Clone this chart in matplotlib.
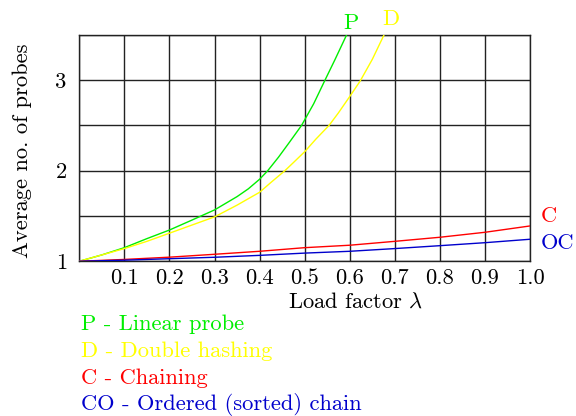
import matplotlib
matplotlib.use("Agg")
import matplotlib.pyplot as plt

plt.rcParams['font.family'] = 'serif'
plt.rcParams['font.serif'] = ['cmr10']
plt.rcParams['mathtext.fontset'] = 'cm'
plt.rcParams['axes.formatter.use_mathtext'] = True

# Значения
x_p = [0.0, 0.05, 0.1, 0.15, 0.2, 0.25, 0.3, 0.35, 0.375, 0.4, 0.418, 0.442, 0.467,
       0.493, 0.52, 0.545, 0.567, 0.593]
y_p = [1.0, 1.07, 1.15, 1.25, 1.345, 1.455, 1.567, 1.714, 1.80, 1.906, 2.0, 2.15, 2.32,
       2.5, 2.74, 3.0, 3.225, 3.5]

x_d = [0.0, 0.05, 0.1, 0.15, 0.2, 0.25, 0.3, 0.35, 0.4, 0.425, 0.456, 0.475, 0.5,
       0.525, 0.554, 0.575, 0.6, 0.623, 0.65, 0.676]
y_d = [1.0, 1.07, 1.14, 1.22, 1.31, 1.40, 1.49, 1.62, 1.762, 1.87, 2.0, 2.09, 2.21,
       2.35, 2.5, 2.64, 2.82, 2.99, 3.23, 3.5]

x_c = [0.0, 0.1, 0.2, 0.3, 0.4, 0.5, 0.6, 0.7, 0.8, 0.9, 1.0]
y_c = [1.0, 1.02, 1.045, 1.077, 1.11, 1.15, 1.177, 1.22, 1.265, 1.32, 1.39]
y_oc = [1.0, 1.012, 1.028, 1.044, 1.065, 1.09, 1.11, 1.14, 1.172, 1.205, 1.243]

x_ticks = [0.0, 0.1, 0.2, 0.3, 0.4, 0.5, 0.6, 0.7, 0.8, 0.9, 1.0]
x_labels = ['', '0.1', '0.2', '0.3', '0.4', '0.5', '0.6', '0.7', '0.8', '0.9', '1.0']
y_ticks = [1.0, 1.5, 2.0, 2.5, 3.0, 3.5]
y_labels = ['1', '', '2', '', '3', '']

legend_lines = ['P - Linear probe', 'D - Double hashing', 'C - Chaining',
                'CO - Ordered (sorted) chain']
colors = ['#00ee00', '#ffff00', '#ff0000', '#0000cc']

fs = 16.2
fig = plt.figure(figsize=(5.76, 4.16), dpi=100)
ax = fig.add_axes([0.1377, 0.372, 0.7825, 0.544])

ax.plot(x_p, y_p, color=colors[0], lw=1.0, zorder=3)
ax.plot(x_d, y_d, color=colors[1], lw=1.0, zorder=3)
ax.plot(x_c, y_c, color=colors[2], lw=1.0, zorder=3)
ax.plot(x_c, y_oc, color=colors[3], lw=1.0, zorder=3)

ax.set_xlim(0, 1.0)
ax.set_ylim(1, 3.5)
ax.set_xticks(x_ticks)
ax.set_xticklabels(x_labels, fontsize=fs)
ax.set_yticks(y_ticks)
ax.set_yticklabels(y_labels, fontsize=fs)
ax.tick_params(length=0)
ax.tick_params(axis='x', pad=5)
ax.tick_params(axis='y', pad=9)
ax.grid(True, color='#222222', lw=1.0)
for s in ax.spines.values():
    s.set_color('#222222')
    s.set_linewidth(1.0)

ax.set_xlabel(r'Load factor $\lambda$', fontsize=fs)
ax.xaxis.set_label_coords(0.613, -0.135)
ax.set_ylabel('Average no. of probes', fontsize=fs)
ax.yaxis.set_label_coords(-0.105, 0.487)

# подписи кривых
ax.text(0.603, 3.63, 'P', color=colors[0], fontsize=fs, ha='center', va='center', clip_on=False)
ax.text(0.691, 3.67, 'D', color=colors[1], fontsize=fs, ha='center', va='center', clip_on=False)
ax.text(1.024, 1.495, 'C', color=colors[2], fontsize=fs, ha='left', va='center', clip_on=False)
ax.text(1.024, 1.194, 'OC', color=colors[3], fontsize=fs, ha='left', va='center', clip_on=False)

baselines = [330, 357, 384, 410]
for txt, c, b in zip(legend_lines, colors, baselines):
    fig.text(81 / 576, 1 - b / 416, txt, color=c, fontsize=fs, ha='left', va='baseline')

fig.savefig('out.png', dpi=100)
